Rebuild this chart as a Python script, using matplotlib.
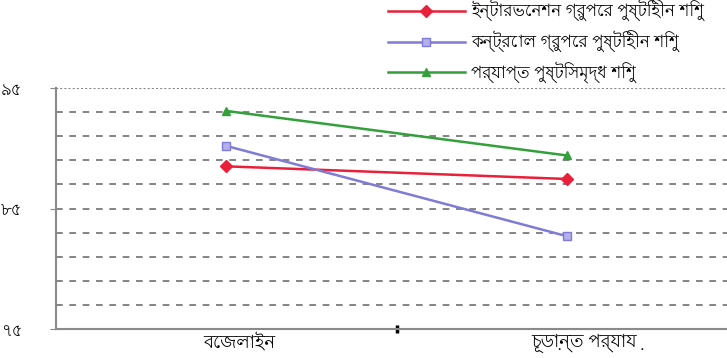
import matplotlib
matplotlib.use('Agg')
import matplotlib.pyplot as plt
import numpy as np

plt.rcParams['font.family'] = ['Lohit Bengali', 'DejaVu Sans']

stages = ['বেজলাইন', 'চূড়ান্ত পর্যায়']
series_names = ['ইন্টারভেনশন গ্রুপের পুষ্টিহীন শিশু',
                'কন্ট্রোল গ্রুপের পুষ্টিহীন শিশু',
                'পর্যাপ্ত পুষ্টিসমৃদ্ধ শিশু']
intervention = [88.5, 87.45]
control = [90.2, 82.7]
adequate = [93.1, 89.4]
ytick_vals = [75, 85, 95]
ytick_labels = ['৭৫', '৮৫', '৯৫']

colors = ['#e8203a', '#7f7bd6', '#33a03c']
markers = ['D', 's', '^']
face = ['#e8203a', '#b3b0ec', '#33a03c']

fig = plt.figure(figsize=(7.27, 3.58), dpi=100)
ax = fig.add_axes([55.5 / 727, 1 - 329 / 358, 682 / 727, 241 / 358])

x = np.arange(len(stages))
for vals, name, c, m, fc in zip([intervention, control, adequate], series_names, colors, markers, face):
    ax.plot(x, vals, color=c, lw=1.8, marker=m, markersize=6, markerfacecolor=fc,
            markeredgecolor=c, label=name)

ax.set_xlim(-0.5, 1.5)
ax.set_ylim(75, 95)

# dashed horizontal grid every 2 units
for yv in np.arange(77, 95, 2):
    ax.axhline(yv, color='#6e6e6e', lw=1.2, ls=(0, (4, 4)), zorder=0)
ax.axhline(95, color='#888888', lw=1.5, ls=(0, (1, 1)), zorder=0)

for s in ['top', 'right']:
    ax.spines[s].set_visible(False)
for s in ['left', 'bottom']:
    ax.spines[s].set_color('#8a8a8a')
    ax.spines[s].set_linestyle((0, (1, 0.6)))
    ax.spines[s].set_linewidth(1.5)

ax.set_yticks(ytick_vals)
ax.set_yticklabels(ytick_labels, fontsize=12)
ax.set_yticks(np.arange(77, 95, 2), minor=True)
ax.tick_params(axis='y', which='major', length=4, color='#888888', pad=20)
ax.tick_params(axis='y', which='minor', length=4, color='#888888', direction='in')

ax.set_xticks([0.5])
ax.set_xticklabels([''])
ax.tick_params(axis='x', length=6, width=2.5, color='black', direction='inout')
for xi, lab in zip([0.04, 1.05], stages):
    ax.text(xi, -0.02, lab, transform=ax.get_xaxis_transform(), ha='center', va='top', fontsize=13)

fig.legend(loc='upper left', bbox_to_anchor=(388 / 727, 1.0), frameon=False,
           fontsize=12, handlelength=4.6, borderpad=0, borderaxespad=0,
           labelspacing=0.5, handletextpad=0.4)

fig.savefig('out.png')
